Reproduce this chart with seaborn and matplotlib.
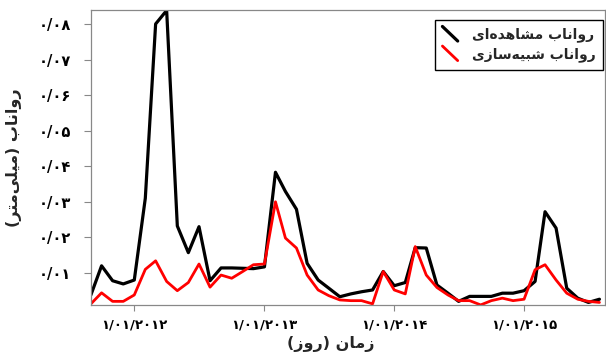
import pandas as pd
import seaborn as sns
import matplotlib.pyplot as plt
from matplotlib.lines import Line2D
from matplotlib.legend_handler import HandlerLine2D

# monthly runoff, Sep 2011 .. Aug 2015
dates = pd.date_range("2011-09-01", periods=48, freq="MS")
observed = [0.0038, 0.0120, 0.0078, 0.0069, 0.0080, 0.0310, 0.0800, 0.0838, 0.0232, 0.0157,
            0.0230, 0.0078, 0.0114, 0.0114, 0.0113, 0.0112, 0.0117, 0.0383, 0.0329, 0.0279,
            0.0127, 0.0080, 0.0057, 0.0033, 0.0041, 0.0047, 0.0052, 0.0104, 0.0064, 0.0073,
            0.0171, 0.0170, 0.0066, 0.0043, 0.0020, 0.0034, 0.0034, 0.0034, 0.0043, 0.0043,
            0.0050, 0.0076, 0.0272, 0.0226, 0.0057, 0.0029, 0.0017, 0.0026]
simulated = [0.0013, 0.0044, 0.0020, 0.0020, 0.0038, 0.0110, 0.0134, 0.0076, 0.0050, 0.0073,
             0.0125, 0.0060, 0.0094, 0.0085, 0.0104, 0.0123, 0.0125, 0.0300, 0.0198, 0.0170,
             0.0094, 0.0052, 0.0036, 0.0024, 0.0022, 0.0022, 0.0013, 0.0104, 0.0052, 0.0041,
             0.0174, 0.0094, 0.0059, 0.0038, 0.0022, 0.0022, 0.0010, 0.0022, 0.0029, 0.0022,
             0.0026, 0.0109, 0.0123, 0.0080, 0.0043, 0.0026, 0.0020, 0.0017]

x_ticks = pd.to_datetime(["2012-01-01", "2013-01-01", "2014-01-01", "2015-01-01"])
x_tick_labels = ["۱/۰۱/۲۰۱۲", "۱/۰۱/۲۰۱۳", "۱/۰۱/۲۰۱۴", "۱/۰۱/۲۰۱۵"]
y_ticks = [0.01, 0.02, 0.03, 0.04, 0.05, 0.06, 0.07, 0.08]
y_tick_labels = ["۰/۰۱", "۰/۰۲", "۰/۰۳", "۰/۰۴", "۰/۰۵", "۰/۰۶", "۰/۰۷", "۰/۰۸"]

label_obs = "رواناب مشاهده‌ای"
label_sim = "رواناب شبیه‌سازی"
x_title = "زمان (روز)"
y_title = "رواناب (میلی‌متر)"

# matplotlib has no arabic shaping, so map letters to presentation forms by hand
FORMS = {
    "ا": "\ufe8d\ufe8e", "د": "\ufea9\ufeaa", "ر": "\ufead\ufeae",
    "ز": "\ufeaf\ufeb0", "و": "\ufeed\ufeee",
    "ب": "\ufe8f\ufe90\ufe91\ufe92", "ت": "\ufe95\ufe96\ufe97\ufe98",
    "س": "\ufeb1\ufeb2\ufeb3\ufeb4", "ش": "\ufeb5\ufeb6\ufeb7\ufeb8",
    "ل": "\ufedd\ufede\ufedf\ufee0", "م": "\ufee1\ufee2\ufee3\ufee4",
    "ن": "\ufee5\ufee6\ufee7\ufee8", "ه": "\ufee9\ufeea\ufeeb\ufeec",
    "ی": "\ufbfc\ufbfd\ufbfe\ufbff",
}


def shape(text):
    out = []
    for k, ch in enumerate(text):
        if ch not in FORMS:
            out.append(ch)
            continue
        prev = text[k - 1] if k > 0 else ""
        nxt = text[k + 1] if k + 1 < len(text) else ""
        f = FORMS[ch]
        jp = prev in FORMS and len(FORMS[prev]) == 4
        jn = len(f) == 4 and nxt in FORMS
        if jp and jn:
            out.append(f[3])
        elif jp:
            out.append(f[1])
        elif jn:
            out.append(f[2])
        else:
            out.append(f[0])
    s = "".join(out).replace("\u200c", "")[::-1]
    return s.translate(str.maketrans("()", ")("))


class DiagHandler(HandlerLine2D):
    def create_artists(self, legend, orig_handle, xdescent, ydescent,
                       width, height, fontsize, trans):
        x0, y0 = -xdescent, -ydescent
        line = Line2D([x0, x0 + width], [y0 + height * 1.25, y0 - height * 0.25])
        self.update_prop(line, orig_handle, legend)
        line.set_transform(trans)
        return [line]


df = pd.DataFrame({"date": dates, "observed": observed, "simulated": simulated})

sns.set_theme(style="ticks")
plt.rcParams["font.family"] = ["DejaVu Sans"]

fig = plt.figure(figsize=(6.06, 3.6), dpi=100)
ax = fig.add_axes([0.150, 0.153, 0.848, 0.819])

sns.lineplot(data=df, x="date", y="observed", color="black", lw=2.3, ax=ax, label=shape(label_obs))
sns.lineplot(data=df, x="date", y="simulated", color="#ff0000", lw=2.0, ax=ax, label=shape(label_sim))

ax.set_xlim(dates[0], pd.Timestamp("2015-08-16"))
ax.set_ylim(min(simulated + observed), max(simulated + observed) + 0.0001)

ax.set_xticks(x_ticks)
ax.set_xticklabels(x_tick_labels, fontsize=9.5, fontweight="bold")
ax.set_yticks(y_ticks)
ax.set_yticklabels(y_tick_labels, fontsize=10.5, fontweight="bold")
ax.tick_params(axis="both", colors="#888888", length=4, width=0.8, labelcolor="black")
ax.tick_params(axis="y", pad=9, length=5)
ax.tick_params(axis="x", pad=6)

for sp in ax.spines.values():
    sp.set_visible(True)
    sp.set_color("#888888")
    sp.set_linewidth(0.9)

ax.set_xlabel(shape(x_title), fontsize=11.5, fontweight="bold")
ax.xaxis.set_label_coords(0.466, -0.105)
ax.set_ylabel(shape(y_title), fontsize=11.5, fontweight="bold", labelpad=12)

handles, labels = ax.get_legend_handles_labels()
leg = ax.legend(handles, labels, loc="upper right", bbox_to_anchor=(1.01, 0.99),
                handler_map={Line2D: DiagHandler()}, handlelength=1.1, handletextpad=1.0,
                fancybox=False, framealpha=1, edgecolor="black",
                prop={"size": 10, "weight": "bold"}, borderpad=0.55, labelspacing=0.35)
leg.get_frame().set_linewidth(1.0)

fig.savefig("out.png", dpi=100)
